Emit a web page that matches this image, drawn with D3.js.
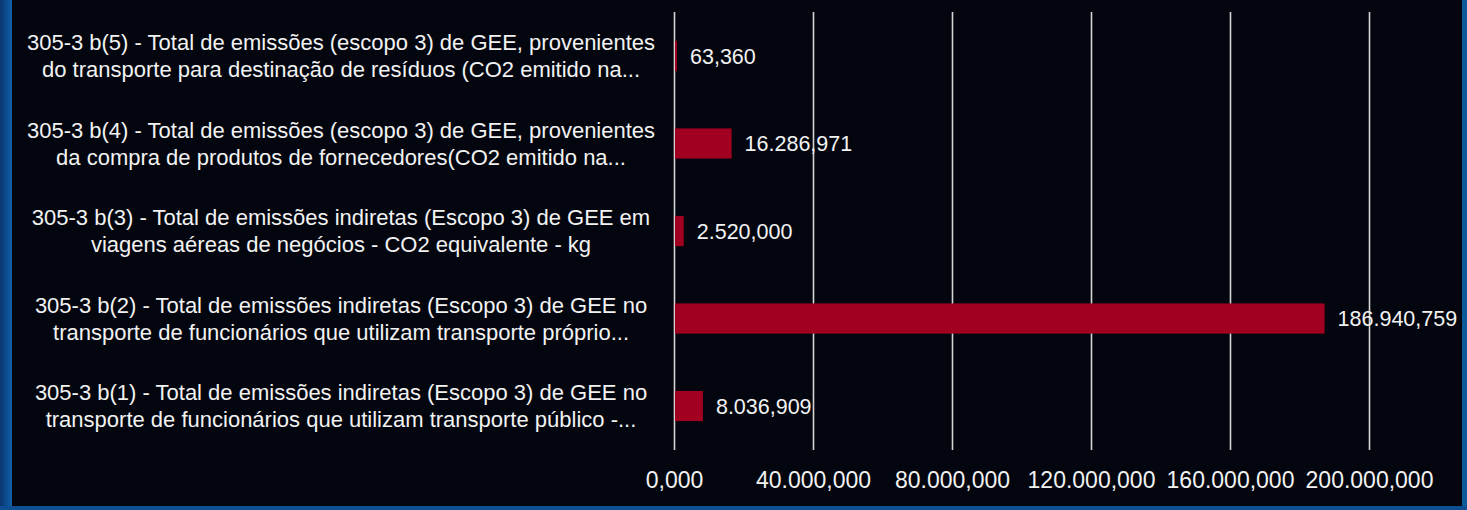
<!DOCTYPE html>
<html>
<head>
<meta charset="utf-8">
<script src="https://cdn.jsdelivr.net/npm/d3@7"></script>
<style>
  html, body { margin: 0; padding: 0; background: #03060f; }
  svg { display: block; }
</style>
</head>
<body>
<svg id="chart"></svg>
<script>
// categories, top to bottom as shown
var categories = ["b5", "b4", "b3", "b2", "b1"];
var labelLines = [
	["305-3 b(5) - Total de emissões (escopo 3) de GEE, provenientes", "do transporte para destinação de resíduos (CO2 emitido na..."],
	["305-3 b(4) - Total de emissões (escopo 3) de GEE, provenientes", "da compra de produtos de fornecedores(CO2 emitido na..."],
	["305-3 b(3) - Total de emissões indiretas (Escopo 3) de GEE em", "viagens aéreas de negócios - CO2 equivalente - kg"],
	["305-3 b(2) - Total de emissões indiretas (Escopo 3) de GEE no", "transporte de funcionários que utilizam transporte próprio..."],
	["305-3 b(1) - Total de emissões indiretas (Escopo 3) de GEE no", "transporte de funcionários que utilizam transporte público -..."]
];
var values = [63360, 16286971, 2520000, 186940759, 8036909];
var tickValues = [0, 40000000, 80000000, 120000000, 160000000, 200000000];

var W = 1467, H = 510;
var margin = { top: 12, right: 98, bottom: 60, left: 674 };
var width = W - margin.left - margin.right;
var height = H - margin.top - margin.bottom;

var font = "'Liberation Sans', Arial, sans-serif";

var locale = d3.formatLocale({ decimal: ",", thousands: ".", grouping: [3], currency: ["", ""] });
var fmt3 = locale.format(",.3f");
var fmt = function(v) { return fmt3(v / 1000); };

var svg = d3.select("#chart").attr("width", W).attr("height", H);

// frame
var defs = svg.append("defs");
var grad = defs.append("linearGradient").attr("id", "leftEdge")
	.attr("x1", "0").attr("x2", "1").attr("y1", "0").attr("y2", "0");
grad.append("stop").attr("offset", "0%").attr("stop-color", "#0a3470");
grad.append("stop").attr("offset", "100%").attr("stop-color", "#1060a8");

svg.append("rect").attr("width", W).attr("height", H).attr("fill", "#03060f");
svg.append("rect").attr("x", 0).attr("y", 0).attr("width", 12).attr("height", H).attr("fill", "url(#leftEdge)");
svg.append("rect").attr("x", 1462).attr("y", 0).attr("width", 5).attr("height", H).attr("fill", "#0d5a9a");
svg.append("rect").attr("x", 0).attr("y", 506).attr("width", W).attr("height", 4).attr("fill", "#0d4f92");

var g = svg.append("g").attr("transform", "translate(" + margin.left + "," + margin.top + ")");

var xScale = d3.scaleLinear().domain([0, 200000000]).range([0, width]);
var yScale = d3.scaleBand().domain(categories).range([0, height]).paddingInner(0.655).paddingOuter(0.33);

// gridlines
g.append("g")
	.attr("class", "grid")
	.call(d3.axisBottom(xScale).tickValues(tickValues).tickSize(height).tickFormat(""))
	.call(function(s) {
		s.select(".domain").remove();
		s.selectAll("line").attr("stroke", "#d4d4d4").attr("stroke-width", 1.6);
	});

// tick labels
g.append("g")
	.attr("transform", "translate(0," + height + ")")
	.call(d3.axisBottom(xScale).tickValues(tickValues).tickSize(0).tickPadding(22).tickFormat(fmt))
	.call(function(s) {
		s.select(".domain").remove();
		s.selectAll("text")
			.attr("fill", "#f2f2f2")
			.style("font-family", font)
			.style("font-size", "23px");
	});

// bars
g.selectAll(".bar")
	.data(values)
	.enter()
	.append("rect")
	.attr("class", "bar")
	.attr("x", xScale(0) + 1)
	.attr("y", function(d, i) { return yScale(categories[i]); })
	.attr("width", function(d) { return Math.max(2, xScale(d) - xScale(0)); })
	.attr("height", yScale.bandwidth())
	.attr("fill", "#a10020");

// value labels
g.selectAll(".val")
	.data(values)
	.enter()
	.append("text")
	.attr("class", "val")
	.attr("x", function(d) { return Math.max(xScale(0) + 2, xScale(d)) + 14; })
	.attr("y", function(d, i) { return yScale(categories[i]) + yScale.bandwidth() / 2; })
	.attr("dy", "0.35em")
	.attr("fill", "#f2f2f2")
	.style("font-family", font)
	.style("font-size", "21.5px")
	.text(fmt);

// category labels
var lab = g.selectAll(".cat")
	.data(labelLines)
	.enter()
	.append("text")
	.attr("class", "cat")
	.attr("text-anchor", "middle")
	.attr("fill", "#f2f2f2")
	.style("font-family", font)
	.style("font-size", "22px");

lab.selectAll("tspan")
	.data(function(d, i) { return d.map(function(t, j) { return { t: t, j: j, i: i }; }); })
	.enter()
	.append("tspan")
	.attr("x", 341 - margin.left)
	.attr("y", function(d) { return yScale(categories[d.i]) + yScale.bandwidth() / 2 + (d.j === 0 ? -13.5 : 13.5); })
	.attr("dy", "0.35em")
	.text(function(d) { return d.t; });
</script>
</body>
</html>
